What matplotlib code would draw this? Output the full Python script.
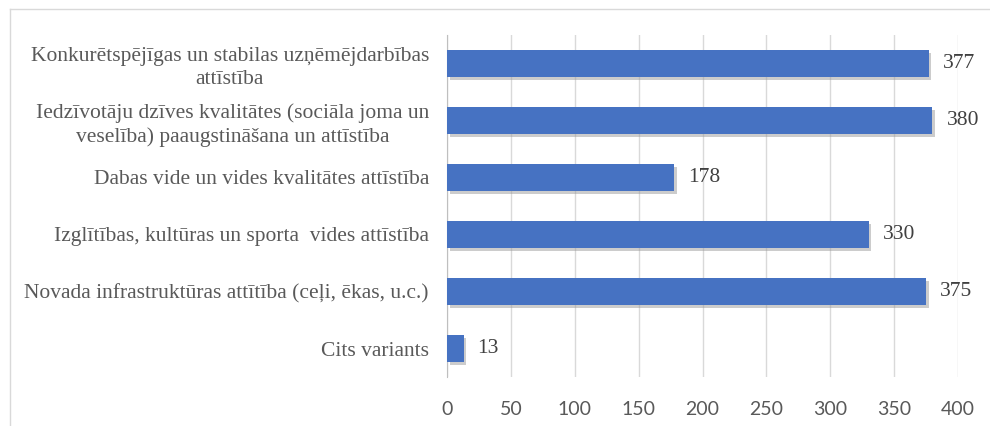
import matplotlib.pyplot as plt
import matplotlib.patheffects as pe
from matplotlib.lines import Line2D

categories = [
    "Konkurētspējīgas un stabilas uzņēmējdarbības\nattīstība",
    "Iedzīvotāju dzīves kvalitātes (sociāla joma un\nveselība) paaugstināšana un attīstība",
    "Dabas vide un vides kvalitātes attīstība",
    "Izglītības, kultūras un sporta  vides attīstība",
    "Novada infrastruktūras attītība (ceļi, ēkas, u.c.)",
    "Cits variants",
]
values = [377, 380, 178, 330, 375, 13]
xticks = [0, 50, 100, 150, 200, 250, 300, 350, 400]

fig = plt.figure(figsize=(9.9, 4.26), dpi=100)
ax = fig.add_axes([447 / 990, 1 - 377 / 426, 511 / 990, 342 / 426])

# chart frame (only top and left edges visible in the crop)
fig.add_artist(Line2D([10 / 990, 1], [1 - 9 / 426, 1 - 9 / 426], color="#d9d9d9", lw=1))
fig.add_artist(Line2D([10 / 990, 10 / 990], [0, 1 - 9 / 426], color="#d9d9d9", lw=1))

ypos = list(range(len(categories)))
bars = ax.barh(ypos, values, height=0.48, color="#4672c2", zorder=3)
for b in bars:
    b.set_path_effects([pe.SimplePatchShadow(offset=(2, -2), shadow_rgbFace="#9a9a9a", alpha=0.5), pe.Normal()])

for y, v in zip(ypos, values):
    ax.text(v + 11, y, str(v), va="center", ha="left", fontsize=15.5,
            family="Liberation Serif", color="#404040")

ax.set_xlim(0, 400)
ax.set_ylim(len(categories) - 0.5, -0.5)
ax.set_xticks(xticks)
ax.set_yticks(ypos)
ax.set_yticklabels(categories, family="Liberation Serif", fontsize=15.5,
                   color="#595959", multialignment="center", linespacing=1.3)
for lbl in ax.get_xticklabels():
    lbl.set_family("Lato")
    lbl.set_fontsize(14)
    lbl.set_color("#595959")

ax.grid(axis="x", color="#d9d9d9", lw=1, zorder=0)
ax.tick_params(axis="both", length=0)
ax.tick_params(axis="y", pad=13)
ax.tick_params(axis="x", pad=17)
for s in ["top", "right", "bottom"]:
    ax.spines[s].set_visible(False)
ax.spines["left"].set_color("#bfbfbf")

fig.savefig("out.png", dpi=100)
